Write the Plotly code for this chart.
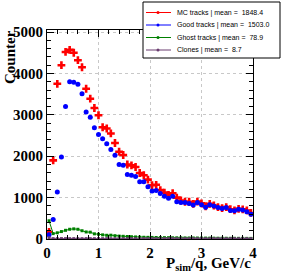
import plotly.graph_objects as go

bin_centers = [round(0.04 + 0.08 * k, 2) for k in range(50)]

mc_tracks = [170, 1900, 3750, 4200, 4520, 4570, 4500, 4320, 4150, 3630,
             3390, 3165, 2990, 2700, 2670, 2550, 2320, 2110, 2030, 1800,
             1780, 1740, 1595, 1540, 1435, 1300, 1310, 1180, 1120, 1065,
             1105, 1000, 930, 900, 900, 850, 905, 860, 790, 850,
             810, 770, 745, 770, 720, 690, 730, 715, 690, 630]

good_tracks = [100, 470, 1135, 1980, 3200, 3800, 3790, 3740, 3510, 3070,
               2940, 2690, 2525, 2420, 2300, 2165, 2025, 1800, 1785, 1560,
               1540, 1510, 1385, 1385, 1260, 1160, 1170, 1100, 1030, 985,
               1030, 900, 880, 880, 860, 820, 880, 830, 770, 830,
               800, 760, 735, 760, 690, 680, 720, 700, 660, 600]

ghost_tracks = [440, 130, 150, 180, 210, 235, 245, 235, 200, 170,
                165, 125, 115, 100, 90, 92, 80, 70, 65, 60,
                55, 50, 45, 42, 40, 38, 36, 34, 33, 32,
                30, 29, 28, 26, 25, 25, 24, 22, 22, 21,
                20, 19, 19, 18, 17, 17, 16, 16, 15, 15]

clones = [30, 9, 9, 10, 9, 8, 9, 9, 8, 9,
          9, 8, 9, 8, 9, 8, 8, 9, 8, 8,
          8, 9, 8, 8, 8, 9, 8, 8, 8, 8,
          9, 8, 8, 8, 8, 8, 8, 9, 8, 8,
          8, 8, 8, 8, 9, 8, 8, 8, 8, 8]

legend_names = ["MC tracks | mean =\u00a0\u00a01848.4",
                "Good tracks | mean =\u00a0\u00a01503.0",
                "Ghost tracks | mean =\u00a0\u00a078.9",
                "Clones | mean =\u00a0\u00a08.7"]
colors = ["#ff0000", "#0000ff", "#008000", "#6a3d70"]

W, H = 281, 273
ML, MR, MT, MB = 47, 28, 30, 34
PW, PH = W - ML - MR, H - MT - MB


def px(x):
    return (x - ML) / PW


def py(y):
    return (H - MB - y) / PH


fig = go.Figure()
fig.add_trace(go.Scatter(x=bin_centers, y=mc_tracks, mode="markers", showlegend=False,
                         marker=dict(symbol="cross", size=6.5, color=colors[0])))
fig.add_trace(go.Scatter(x=bin_centers, y=good_tracks, mode="markers", showlegend=False,
                         marker=dict(symbol="circle", size=5, color=colors[1])))
fig.add_trace(go.Scatter(x=bin_centers, y=ghost_tracks, mode="lines+markers", showlegend=False,
                         marker=dict(symbol="square", size=3, color=colors[2]),
                         line=dict(color=colors[2], width=1)))
fig.add_trace(go.Scatter(x=bin_centers, y=clones, mode="lines+markers", showlegend=False,
                         marker=dict(symbol="square", size=3, color=colors[3]),
                         line=dict(color=colors[3], width=1)))

tickfont = dict(family="Liberation Serif", size=15, color="black", weight="bold")
axis_common = dict(showline=True, linecolor="black", linewidth=1, mirror="ticks",
                   ticks="inside", ticklen=7, tickcolor="black",
                   showgrid=True, gridcolor="#c8c8c8", griddash="dot", gridwidth=1,
                   zeroline=False, tickfont=tickfont)

fig.update_xaxes(range=[0, 4], dtick=1, tick0=0,
                 minor=dict(dtick=0.2, ticks="inside", ticklen=4, tickcolor="black", showgrid=False),
                 **axis_common)
fig.update_yaxes(range=[0, 5050], dtick=1000, tick0=0,
                 minor=dict(dtick=200, ticks="inside", ticklen=4, tickcolor="black", showgrid=False),
                 **axis_common)

fig.add_annotation(text="<b>Counter</b>", xref="paper", yref="paper",
                   x=px(20), y=py(28), xanchor="right", yanchor="top",
                   textangle=-90, showarrow=False,
                   font=dict(family="Liberation Serif", size=15, color="black"))
fig.add_annotation(text="<b>P<sub>sim</sub>/q, GeV/c</b>", xref="paper", yref="paper",
                   x=1, y=0, xanchor="right", yanchor="top", yshift=-14,
                   showarrow=False,
                   font=dict(family="Liberation Serif", size=15, color="black"))

# legend box (drawn by hand to match the ROOT legend layout)
fig.add_shape(type="rect", xref="paper", yref="paper",
              x0=px(143), x1=px(280), y0=py(58), y1=py(2),
              line=dict(color="black", width=1), fillcolor="white", layer="above")
row_y = [12.5, 25, 37.5, 50]
for name, c, ry in zip(legend_names, colors, row_y):
    fig.add_shape(type="line", xref="paper", yref="paper",
                  x0=px(146), x1=px(171), y0=py(ry), y1=py(ry),
                  line=dict(color=c, width=1), layer="above")
    fig.add_shape(type="circle", xref="paper", yref="paper",
                  x0=px(156.5), x1=px(159.5), y0=py(ry + 1.5), y1=py(ry - 1.5),
                  line=dict(color=c, width=0), fillcolor=c, layer="above")
    fig.add_annotation(text=name, xref="paper", yref="paper",
                       x=px(175), y=py(ry), xanchor="left", yanchor="middle",
                       showarrow=False,
                       font=dict(family="Liberation Sans", size=7, color="black"))

fig.update_layout(
    width=W, height=H,
    margin=dict(l=ML, r=MR, t=MT, b=MB, pad=0, autoexpand=False),
    plot_bgcolor="white", paper_bgcolor="white",
    showlegend=False,
)

fig.write_html("out.html", config={"displayModeBar": False},
               post_script="document.body.style.margin='0';document.body.style.overflow='hidden';")
